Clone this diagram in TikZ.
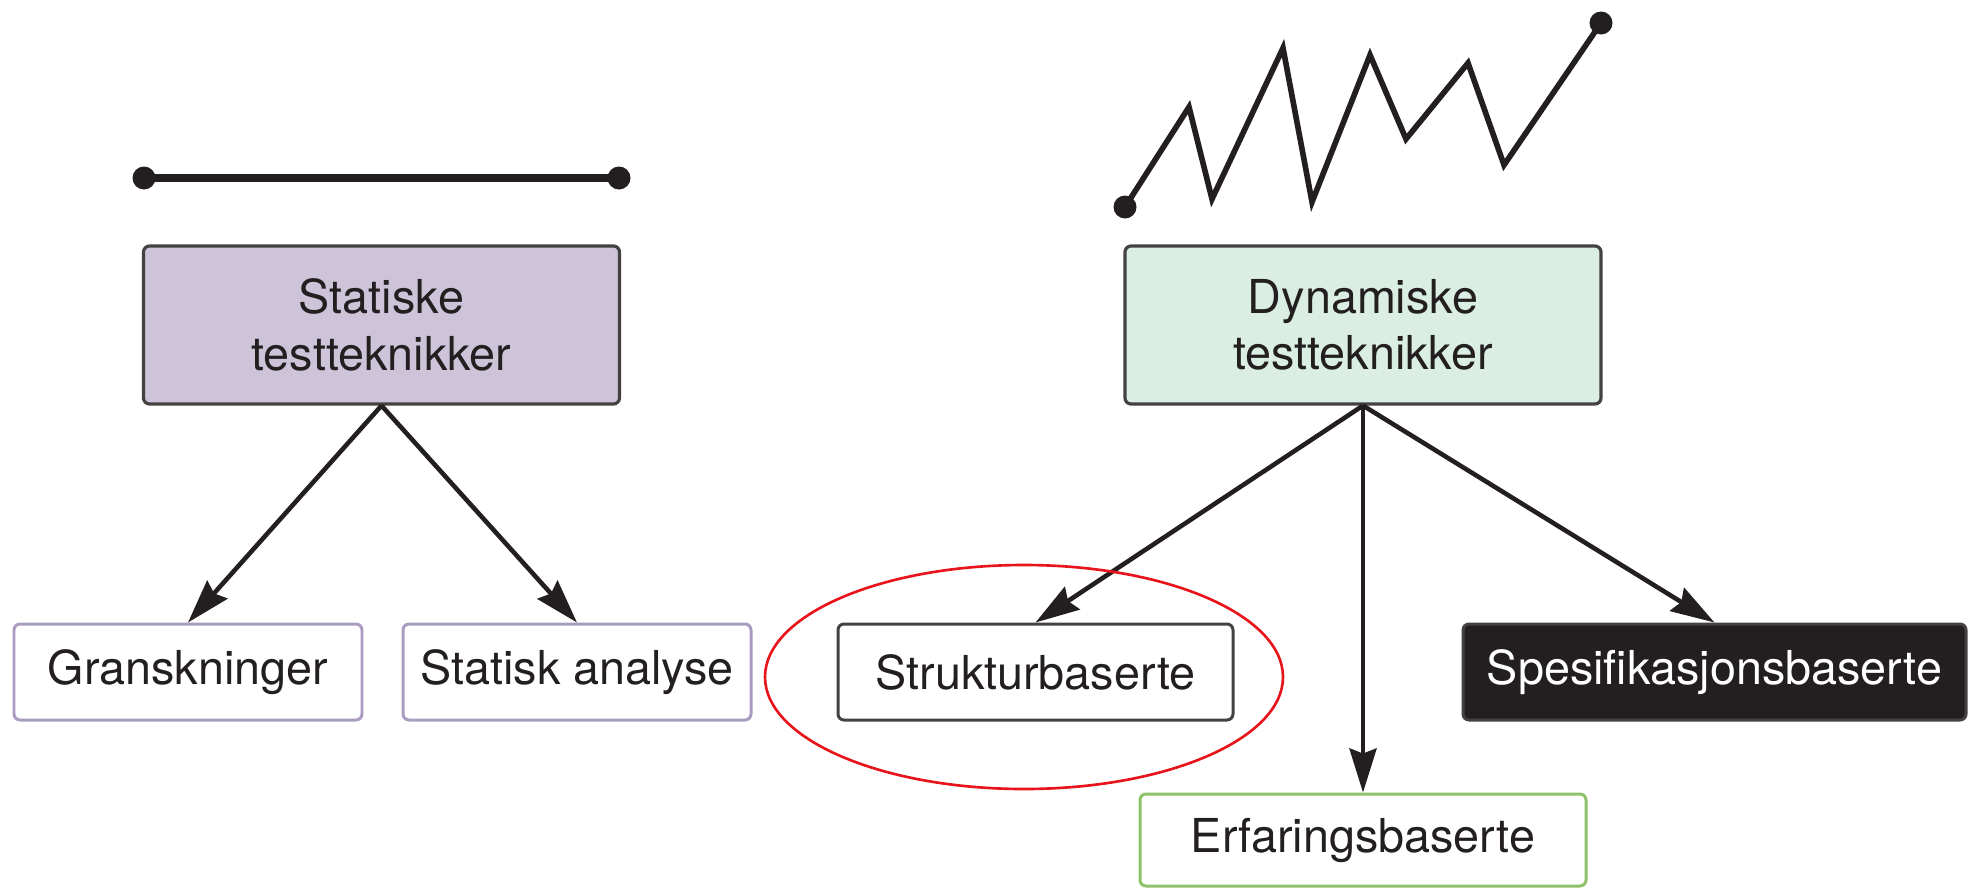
\documentclass[tikz,border=0pt]{standalone}
\usepackage{fontspec}
\setmainfont{TeX Gyre Heros}
\usetikzlibrary{arrows.meta}

\definecolor{inkblack}{HTML}{231F20}
\definecolor{lilac}{HTML}{CDC4DA}
\definecolor{lilacline}{HTML}{A99CC0}
\definecolor{mint}{HTML}{DAEEE3}
\definecolor{leafgreen}{HTML}{8DC26A}
\definecolor{markred}{HTML}{E8141B}

\tikzset{
  box/.style={draw=inkblack!85, rounded corners=0.06cm, line width=0.9pt,
    text=inkblack, align=center, inner sep=0pt,
    font=\fontsize{13.3}{16}\selectfont},
  mainbox/.style={box, minimum width=4.76cm, minimum height=1.58cm},
  leafbox/.style={box, minimum height=0.96cm, line width=0.85pt},
  branch/.style={-{Stealth[length=0.44cm,width=0.27cm,inset=0.05cm]},
    line width=1.3pt, draw=inkblack},
  dot/.style={circle, fill=inkblack, inner sep=0pt, minimum size=0.23cm},
}

\begin{document}
\begin{tikzpicture}
  \useasboundingbox (0,0) rectangle (19.69,8.88);

  % Top nodes
  \node[mainbox, fill=lilac] (stat) at (3.815,5.63) {Statiske\\testteknikker};
  \node[mainbox, fill=mint] (dyn) at (13.63,5.63) {Dynamiske\\testteknikker};

  % Leaves
  \node[leafbox, draw=lilacline, minimum width=3.48cm] (gran) at (1.88,2.16) {Granskninger};
  \node[leafbox, draw=lilacline, minimum width=3.48cm] (analyse) at (5.77,2.16) {Statisk analyse};
  \node[leafbox, minimum width=3.95cm] (struk) at (10.355,2.16) {Strukturbaserte};
  \node[leafbox, fill=inkblack, text=white, minimum width=5.03cm] (spes) at (17.145,2.16) {Spesifikasjonsbaserte};
  \node[leafbox, draw=leafgreen, minimum width=4.46cm, minimum height=0.92cm] (erf) at (13.63,0.48) {Erfaringsbaserte};

  \draw[branch] (stat.south) -- (gran.north);
  \draw[branch] (stat.south) -- (analyse.north);
  \draw[branch] (dyn.south) -- (struk.north);
  \draw[branch] (dyn.south) -- (erf.north);
  \draw[branch] (dyn.south) -- (spes.north);

  % Straight line over the static box
  \node[dot] (lineA) at (1.44,7.10) {};
  \node[dot] (lineB) at (6.19,7.10) {};
  \draw[inkblack, line width=2.2pt] (lineA.center) -- (lineB.center);

  % Zigzag over the dynamic box
  \node[dot] (zigA) at (11.25,6.81) {};
  \node[dot] (zigB) at (16.01,8.65) {};
  \draw[inkblack, line width=1.6pt, line join=miter] (zigA.center) -- (11.89,7.81) -- (12.12,6.89)
    -- (12.83,8.40) -- (13.12,6.86) -- (13.70,8.33) -- (14.06,7.49)
    -- (14.68,8.25) -- (15.04,7.23) -- (zigB.center);

  % Red ring round the structure based node
  \draw[markred, line width=0.75pt] (10.24,2.11) ellipse [x radius=2.59, y radius=1.12];
\end{tikzpicture}
\end{document}
